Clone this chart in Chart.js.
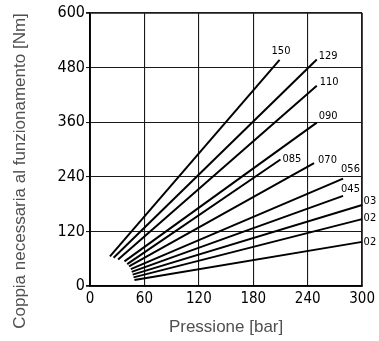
<!DOCTYPE html>
<html>
<head>
<meta charset="utf-8">
<script src="https://cdn.jsdelivr.net/npm/chart.js@4.4.1/dist/chart.umd.min.js"></script>
<style>
  html, body { margin: 0; padding: 0; background: #fff; }
  #wrap { width: 379px; height: 341px; }
</style>
</head>
<body>
<div id="wrap"><canvas id="c"></canvas></div>
<script>
// Torque needed per displacement size: pressure [bar] -> torque [Nm]
const sizes  = ["150", "129", "110", "090", "085", "070", "056", "045", "03", "02", "02"];
const pStart = [22, 26, 31, 38, 41, 43, 45, 46, 47, 48, 49];
const tStart = [65, 62, 58, 54, 48, 43, 37, 31, 25, 19, 13];
const pEnd   = [209, 250, 250, 250, 210, 247, 279, 279, 300, 300, 300];
const tEnd   = [497, 498, 440, 359, 278, 270, 236, 198, 178, 147, 97];
const xTicks = [0, 60, 120, 180, 240, 300];
const yTicks = [0, 120, 240, 360, 480, 600];

// label nudges (px) next to each line end
const lblDx = [-8, 2, 3, 2, 2, 4, -2, -2, 1.5, 1.5, 1.5];
const lblDy = [-9, -3, -3.5, -6.7, -0.6, -3, -9, -7, -3.5, -0.5, 0];

const NARROW = "'Liberation Sans Narrow', 'DejaVu Sans Condensed', sans-serif";
const SANS = "'Liberation Sans', Arial, sans-serif";

const endLabels = {
  id: "endLabels",
  afterDatasetsDraw(chart) {
    const { ctx, scales: { x, y } } = chart;
    ctx.save();
    ctx.font = "11px " + NARROW;
    ctx.fillStyle = "#000";
    ctx.textAlign = "left";
    ctx.textBaseline = "middle";
    sizes.forEach((s, i) => {
      ctx.fillText(s, x.getPixelForValue(pEnd[i]) + lblDx[i], y.getPixelForValue(tEnd[i]) + lblDy[i]);
    });
    ctx.restore();
  },
};

// y title is longer than the plot, so it sits lower than chart.js would center it
const yTitle = {
  id: "yTitle",
  afterDraw(chart) {
    const { ctx } = chart;
    ctx.save();
    ctx.translate(20, 171);
    ctx.rotate(-Math.PI / 2);
    ctx.font = "17px " + SANS;
    ctx.fillStyle = "#505050";
    ctx.textAlign = "center";
    ctx.textBaseline = "middle";
    ctx.fillText("Coppia necessaria al funzionamento [Nm]", 0, 0);
    ctx.restore();
  },
};

const edgeW = (lo, hi) => (c) => (c.tick && (c.tick.value === lo || c.tick.value === hi) ? 1.8 : 1.1);

new Chart(document.getElementById("c"), {
  type: "line",
  data: {
    datasets: sizes.map((s, i) => ({
      label: s,
      data: [{ x: pStart[i], y: tStart[i] }, { x: pEnd[i], y: tEnd[i] }],
      borderColor: "#000",
      borderWidth: 2,
      pointRadius: 0,
      tension: 0,
      clip: false,
    })),
  },
  options: {
    responsive: true, maintainAspectRatio: false,
    animation: false,
    layout: { padding: { top: 13, right: 15, left: 0, bottom: 0 } },
    plugins: { legend: { display: false }, tooltip: { enabled: false } },
    scales: {
      x: {
        type: "linear", min: 0, max: 300,
        afterBuildTicks: (s) => { s.ticks = xTicks.map((v) => ({ value: v })); },
        afterFit: (s) => { s.height = 55; },
        grid: { color: "#1a1a1a", lineWidth: edgeW(0, 300), drawTicks: false },
        border: { color: "#000", width: 1.8 },
        ticks: { color: "#000", padding: 4, maxRotation: 0, font: { family: NARROW, size: 15 } },
        title: { display: true, text: "Pressione [bar]", color: "#505050", font: { family: SANS, size: 17 }, padding: { top: 4, bottom: 3 } },
      },
      y: {
        min: 0, max: 600,
        afterBuildTicks: (s) => { s.ticks = yTicks.map((v) => ({ value: v })); },
        afterFit: (s) => { s.width = 90; },
        grid: { color: "#1a1a1a", lineWidth: edgeW(0, 600), tickLength: 4 },
        border: { color: "#000", width: 1.8 },
        ticks: { color: "#000", padding: 1, font: { family: NARROW, size: 16 } },
      },
    },
  },
  plugins: [endLabels, yTitle],
});
</script>
</body>
</html>
